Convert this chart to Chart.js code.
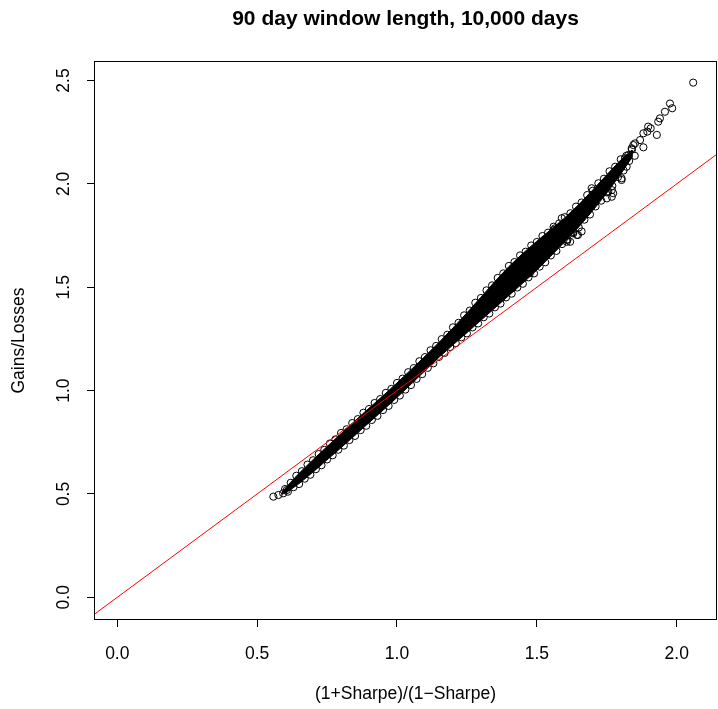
<!DOCTYPE html>
<html>
<head>
<meta charset="utf-8">
<script src="https://cdn.jsdelivr.net/npm/chart.js@4.4.1/dist/chart.umd.min.js"></script>
<style>
  html, body { margin: 0; padding: 0; background: #fff; }
  canvas { display: block; }
</style>
</head>
<body>
<canvas id="plot" width="718" height="709"></canvas>
<script>
const TITLE = '90 day window length, 10,000 days';
const X_LABEL = '(1+Sharpe)/(1\u2212Sharpe)';
const Y_LABEL = 'Gains/Losses';

const xTicks = [0, 0.5, 1.0, 1.5, 2.0];
const yTicks = [0, 0.5, 1.0, 1.5, 2.0, 2.5];

// y = x reference line (abline 0,1)
const refX = [-0.2, 2.3];
const refY = [-0.2, 2.3];

const bandX =     [0.59, 0.62, 0.65, 0.70, 0.75, 0.80, 0.85, 0.90, 0.95, 1.00, 1.05, 1.10, 1.15, 1.20, 1.25, 1.30, 1.35, 1.40, 1.45, 1.50, 1.55, 1.60, 1.65, 1.70, 1.75, 1.80, 1.84];
const bandUpper = [0.510, 0.557, 0.600, 0.666, 0.729, 0.792, 0.854, 0.915, 0.975, 1.037, 1.101, 1.166, 1.233, 1.303, 1.376, 1.452, 1.528, 1.600, 1.664, 1.723, 1.779, 1.836, 1.900, 1.971, 2.044, 2.116, 2.164];
const bandLower = [0.498, 0.521, 0.550, 0.606, 0.665, 0.724, 0.784, 0.845, 0.905, 0.967, 1.031, 1.096, 1.161, 1.221, 1.280, 1.340, 1.400, 1.460, 1.520, 1.583, 1.651, 1.720, 1.792, 1.871, 1.956, 2.048, 2.128];

// circles along the upper-left edge of the cloud
const upperEdgeX = [0.60, 0.62, 0.64, 0.66, 0.68, 0.70, 0.72, 0.74, 0.76, 0.78, 0.80, 0.82, 0.84, 0.86, 0.88, 0.90, 0.92, 0.94, 0.96, 0.98,
                    1.00, 1.02, 1.04, 1.06, 1.08, 1.10, 1.12, 1.14, 1.16, 1.18, 1.20, 1.22, 1.24, 1.26, 1.28, 1.30, 1.32, 1.34, 1.36, 1.38,
                    1.40, 1.42, 1.44, 1.46, 1.48, 1.50, 1.52, 1.54, 1.56, 1.58, 1.60, 1.62, 1.64, 1.66, 1.68, 1.70, 1.72, 1.74, 1.76, 1.78,
                    1.80, 1.82, 1.84];
const upperEdgeY = [0.524, 0.554, 0.588, 0.610, 0.642, 0.663, 0.693, 0.713, 0.744, 0.764, 0.795, 0.813, 0.843, 0.862, 0.893, 0.911, 0.940, 0.959, 0.989, 1.008,
                    1.037, 1.058, 1.089, 1.109, 1.142, 1.162, 1.195, 1.216, 1.249, 1.270, 1.306, 1.328, 1.364, 1.387, 1.425, 1.448, 1.485, 1.509, 1.545, 1.567,
                    1.603, 1.622, 1.654, 1.672, 1.702, 1.719, 1.748, 1.764, 1.793, 1.809, 1.839, 1.858, 1.890, 1.910, 1.946, 1.967, 2.003, 2.025, 2.061, 2.083,
                    2.119, 2.136, 2.166];

// circles along the lower-right edge of the cloud
const lowerEdgeX = [0.61, 0.63, 0.65, 0.67, 0.69, 0.71, 0.73, 0.75, 0.77, 0.79, 0.81, 0.83, 0.85, 0.87, 0.89, 0.91, 0.93, 0.95, 0.97, 0.99,
                    1.01, 1.03, 1.05, 1.07, 1.09, 1.11, 1.13, 1.15, 1.17, 1.19, 1.21, 1.23, 1.25, 1.27, 1.29, 1.31, 1.33, 1.35, 1.37, 1.39,
                    1.41, 1.43, 1.45, 1.47, 1.49, 1.51, 1.53, 1.55, 1.57, 1.59, 1.61, 1.63, 1.65, 1.67, 1.69, 1.71, 1.73, 1.75, 1.77, 1.79,
                    1.81, 1.83, 1.85];
const lowerEdgeY = [0.511, 0.533, 0.548, 0.574, 0.593, 0.620, 0.639, 0.667, 0.687, 0.714, 0.734, 0.761, 0.781, 0.809, 0.830, 0.858, 0.878, 0.906, 0.926, 0.955,
                    0.976, 1.005, 1.027, 1.057, 1.080, 1.110, 1.132, 1.163, 1.182, 1.211, 1.230, 1.258, 1.277, 1.306, 1.325, 1.355, 1.373, 1.403, 1.421, 1.451,
                    1.469, 1.499, 1.517, 1.548, 1.567, 1.600, 1.621, 1.654, 1.676, 1.709, 1.731, 1.766, 1.789, 1.827, 1.852, 1.891, 1.919, 1.959, 1.990, 2.033,
                    2.065, 2.111, 2.136];

// sparse points: bottom end, stragglers and the upper tail
const tailX = [0.558, 0.576, 0.593, 0.606,
               1.475, 1.559, 1.565, 1.589, 1.607, 1.607, 1.619, 1.630, 1.643, 1.647, 1.660, 1.696, 1.750, 1.755, 1.768, 1.768, 1.773, 1.773,
               1.803, 1.803, 1.809, 1.815, 1.821, 1.827, 1.839, 1.845, 1.851, 1.869, 1.881, 1.881, 1.895, 1.898, 1.907,
               1.929, 1.934, 1.940, 1.958, 1.976, 1.984, 2.059];
const tailY = [0.487, 0.495, 0.503, 0.519,
               1.568, 1.777, 1.785, 1.834, 1.720, 1.729, 1.720, 1.761, 1.753, 1.753, 1.770, 1.979, 1.930, 1.962, 1.938, 1.970, 1.955, 2.043,
               2.027, 2.019, 2.100, 2.124, 2.083, 2.140, 2.172, 2.188, 2.196, 2.212, 2.177, 2.245, 2.253, 2.277, 2.269,
               2.237, 2.301, 2.317, 2.349, 2.389, 2.366, 2.490];

const FONT = "'Liberation Sans', Arial, Helvetica, sans-serif";
Chart.defaults.font.family = FONT;
Chart.defaults.color = '#000';

const toPoints = (xs, ys) => xs.map((x, i) => ({ x: x, y: ys[i] }));

const upperSide = toPoints(bandX, bandUpper);
const lowerSide = toPoints(bandX, bandLower).reverse();
const bandPoly = upperSide.concat(lowerSide, [upperSide[0]]);

const cloud = toPoints(upperEdgeX, upperEdgeY)
    .concat(toPoints(lowerEdgeX, lowerEdgeY))
    .concat(toPoints(tailX, tailY));

// R style box round the plot region
const boxPlugin = {
    id: 'plotBox',
    afterDraw(chart) {
        const { ctx, chartArea: a } = chart;
        ctx.save();
        ctx.strokeStyle = '#000';
        ctx.lineWidth = 1;
        ctx.strokeRect(a.left + 0.5, a.top + 0.5, a.right - a.left - 1, a.bottom - a.top - 1);
        ctx.restore();
    }
};

const tickFmt = v => Number(v).toFixed(1);

new Chart(document.getElementById('plot'), {
    type: 'scatter',
    data: {
        datasets: [{
            label: 'y = x',
            type: 'line',
            data: toPoints(refX, refY),
            borderColor: '#ff0000',
            borderWidth: 1,
            pointRadius: 0,
            fill: false,
            showLine: true
        }, {
            label: 'windows',
            data: cloud,
            borderColor: '#000',
            backgroundColor: 'rgba(0,0,0,0)',
            borderWidth: 1,
            pointRadius: 3.6,
            pointHoverRadius: 3.6
        }, {
            label: 'core',
            type: 'line',
            data: bandPoly,
            borderColor: '#000',
            backgroundColor: '#000',
            borderWidth: 1,
            pointRadius: 0,
            tension: 0,
            fill: 'shape',
            showLine: true
        }]
    },
    options: {
        responsive: false,
        animation: false,
        devicePixelRatio: 1,
        events: [],
        layout: { autoPadding: false, padding: { left: 0, right: 1, top: 0, bottom: 0 } },
        plugins: {
            legend: { display: false },
            tooltip: { enabled: false },
            title: {
                display: true,
                text: TITLE,
                fullSize: false,
                color: '#000',
                font: { family: FONT, size: 21, weight: 'bold', lineHeight: 1.2 },
                padding: { top: 7, bottom: 28.8 }
            }
        },
        scales: {
            x: {
                type: 'linear',
                min: -0.0833,
                max: 2.1441,
                afterBuildTicks: s => { s.ticks = xTicks.map(v => ({ value: v })); },
                afterFit: s => { s.height = 89; s.paddingLeft = 0; s.paddingRight = 0; },
                grid: { drawOnChartArea: false, drawTicks: true, tickLength: 7, color: '#000', lineWidth: 1 },
                border: { display: false },
                ticks: { callback: tickFmt, padding: 17, maxRotation: 0, color: '#000', font: { size: 17.5 } },
                title: { display: true, text: X_LABEL, color: '#000', font: { size: 17.5 }, padding: { top: 0, bottom: 4 } }
            },
            y: {
                type: 'linear',
                min: -0.1098,
                max: 2.5946,
                afterBuildTicks: s => { s.ticks = yTicks.map(v => ({ value: v })); },
                afterFit: s => { s.width = 94; s.paddingTop = 0; s.paddingBottom = 0; },
                grid: { drawOnChartArea: false, drawTicks: true, tickLength: 7, color: '#000', lineWidth: 1 },
                border: { display: false },
                ticks: { callback: tickFmt, padding: 11, minRotation: 90, maxRotation: 90, crossAlign: 'center', color: '#000', font: { size: 17.5 } },
                title: { display: true, text: Y_LABEL, color: '#000', font: { size: 17.5 }, padding: { top: 9, bottom: 0 } }
            }
        }
    },
    plugins: [boxPlugin]
});
</script>
</body>
</html>
